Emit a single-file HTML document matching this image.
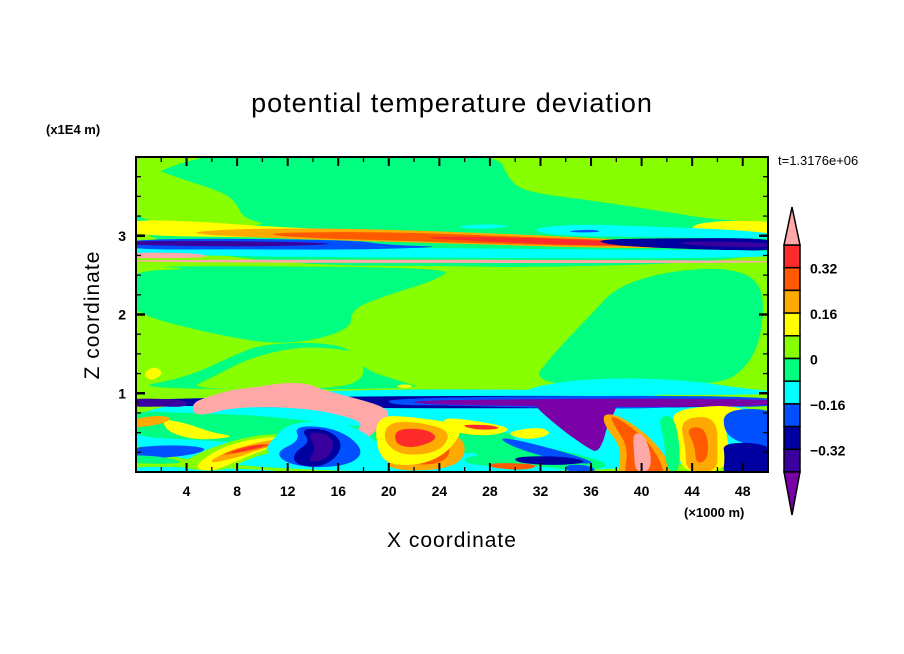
<!DOCTYPE html>
<html><head><meta charset="utf-8"><style>
html,body{margin:0;padding:0;background:#fff;}
svg{display:block;font-family:"Liberation Sans","DejaVu Sans",sans-serif;}
</style></head><body>
<svg id="chart" width="904" height="654" viewBox="0 0 904 654" xmlns="http://www.w3.org/2000/svg">
<defs><clipPath id="pc"><rect x="136" y="157" width="632" height="315"/></clipPath></defs>
<rect width="904" height="654" fill="#fff"/>
<text x="452" y="112" font-size="27" text-anchor="middle" letter-spacing="1">potential temperature deviation</text>
<text x="46" y="134" font-size="13" font-weight="bold">(x1E4 m)</text>
<text x="778" y="165" font-size="13">t=1.3176e+06</text>
<text x="0" y="0" font-size="21" text-anchor="middle" transform="translate(99,315) rotate(-90)" letter-spacing="1">Z coordinate</text>
<text x="452" y="547" font-size="21" text-anchor="middle" letter-spacing="1">X coordinate</text>
<text x="684" y="517" font-size="13" font-weight="bold">(×1000 m)</text>
<g id="field" clip-path="url(#pc)"></g>
<g id="axes"></g>
<g id="cbar"></g>
</svg>
<script>
// colour levels (index 0 = below -0.4 ... 11 = above 0.4)
const levelColors = ["#7a00a8","#3a009e","#0000a0","#0050ff","#00ffff","#00ff80","#88ff00","#ffff00","#ffaa00","#ff5a00","#ff2a2a","#ffa8a8"];
const cbarLabels = ["0.32","0.16","0","\u22120.16","\u22120.32"];
const xTicks = [4,8,12,16,20,24,28,32,36,40,44,48];
const zTicks = [1,2,3];
const xDomain = [0,50];
const zDomain = [0,4];
// regions: level index + outline in data coords [x (km), z (1e4 m)]
const regionLevels = [5,6,6,7,7,8,9,10,4,4,3,2,1,4,3,1,11,11,
  5,5,5,6,4,7,7,
  4,2,1,5,7,3,4,5,8,9,6,7,8,9,10,11,4,3,2,1,7,8,10,8,7,10,3,1,0,0,
  8,9,11,7,8,9,3,2,5,7,5,3,2,9,4,3];
const regionShapes = [
 [[0,4.1],[28.5,4.1],[29.5,3.7],[31,3.55],[36,3.45],[42,3.3],[46,3.2],[51,3.18],[51,2.6],[-1,2.6]],
 [[-1,4.0],[3,3.75],[7,3.55],[8,3.4],[8.5,3.22],[11,3.12],[-1,3.12]],
 [[-1,2.62],[30,2.62],[30,2.55],[-1,2.5]],
 [[-1,3.2],[4,3.19],[10,3.12],[20,3.05],[30,3.0],[30,2.92],[10,2.98],[-1,3.0]],
 [[44,3.18],[51,3.2],[51,2.98],[44,3.0]],
 [[3,3.04],[10,3.1],[20,3.08],[30,3.02],[40,2.94],[48,2.88],[40,2.83],[25,2.9],[10,2.97]],
 [[10,3.04],[20,3.05],[30,2.99],[42,2.92],[45,2.87],[35,2.87],[22,2.93],[12,2.98]],
 [[22,2.98],[28,2.99],[38,2.93],[44,2.89],[36,2.87],[26,2.94]],
 [[25,3.12],[28,3.15],[30,3.12],[27,3.08]],
 [[31,3.09],[35,3.15],[40,3.12],[47,3.08],[51,3.02],[51,2.96],[42,2.98],[33,3.0]],
 [[34,3.06],[36,3.08],[37,3.05],[35,3.04]],
 [[36,2.95],[42,2.97],[51,2.97],[51,2.8],[44,2.83],[38,2.87]],
 [[42,2.93],[50,2.92],[51,2.85],[45,2.86]],
 [[-1,2.86],[15,2.86],[25,2.84],[40,2.82],[51,2.82],[51,2.7],[-1,2.74]],
 [[-1,2.97],[17,2.95],[20,2.88],[25,2.86],[17,2.82],[8,2.83],[-1,2.82]],
 [[-1,2.94],[10,2.93],[17,2.9],[10,2.86],[-1,2.88]],
 [[-1,2.79],[5,2.78],[6,2.72],[-1,2.71]],
 [[-1,2.7],[51,2.69],[51,2.65],[-1,2.66]],
 [[0,2.62],[25,2.6],[24,2.45],[19,2.2],[17,2.05],[17,1.8],[12,1.6],[6,1.75],[-1,2.05],[-1,2.55],[5,2.58]],
 [[31,1.08],[33,1.5],[36,2.0],[38,2.35],[42,2.55],[47,2.6],[49.6,2.4],[49.6,1.8],[48.5,1.35],[46,1.08]],
 [[-1,1.05],[4,1.2],[8,1.5],[10,1.62],[14,1.65],[17,1.58],[18,1.3],[21,1.15],[23,1.05]],
 [[15,1.05],[18,1.15],[18,1.45],[17,1.55],[13,1.6],[9,1.45],[6,1.2],[4,1.05]],
 [[30,1.0],[33,1.14],[38,1.2],[44,1.16],[48,1.06],[51,1.02],[51,0.98],[30,0.98]],
 [[0.5,1.25],[1.5,1.35],[2.2,1.25],[1.2,1.15]],
 [[20.5,1.1],[21.5,1.12],[22,1.08],[21,1.06]],
 // lower turbulent region
 [[-1,1.05],[51,1.05],[51,0],[-1,0]],
 [[-1,0.95],[51,0.98],[51,0.8],[-1,0.82]],
 [[-1,0.94],[4,0.92],[4,0.84],[-1,0.82]],
 [[-1,0.78],[4,0.75],[10,0.72],[16,0.6],[20,0.55],[26,0.6],[30,0.5],[30,0.3],[24,0.2],[14,0.3],[6,0.4],[-1,0.45]],
 [[2,0.68],[4,0.62],[6,0.5],[8,0.45],[5,0.4],[2.5,0.5]],
 [[-1,0.3],[3,0.35],[6,0.3],[4,0.2],[-1,0.15]],
 [[-1,0.08],[6,0.05],[12,0.02],[12,-0.1],[-1,-0.1]],
 [[-1,0.22],[2,0.2],[4,0.12],[2,0.1],[-1,0.12]],
 [[19.5,0.5],[23,0.55],[26,0.45],[26,0.15],[24,0.02],[20,0.02],[19,0.25]],
 [[20.5,0.4],[23,0.45],[25,0.35],[24.5,0.12],[22,0.08],[20.5,0.2]],
 [[3,0.05],[5,0.25],[8,0.42],[11,0.5],[14,0.42],[12,0.3],[9,0.18],[7,0.0]],
 [[4.5,0.05],[6,0.25],[8,0.38],[11,0.46],[13,0.4],[10,0.28],[8,0.14],[6,0.0]],
 [[5.5,0.1],[7,0.25],[9,0.35],[11,0.42],[12,0.38],[10,0.3],[8,0.18]],
 [[6.5,0.2],[8,0.3],[10,0.36],[11,0.35],[9,0.27]],
 [[7,0.22],[9,0.33],[10.5,0.36],[9.5,0.3]],
 [[4.5,0.88],[5.6,0.95],[7.4,1.04],[9.6,1.08],[11.4,1.13],[13.5,1.13],[14.8,1.04],[18,0.91],[19.5,0.83],[20.1,0.75],[19.5,0.62],[18.5,0.44],[17.5,0.41],[17.2,0.47],[18,0.62],[16.7,0.7],[14.3,0.79],[10.6,0.83],[7.4,0.81],[5.3,0.72],[4.5,0.75]],
 [[12,0.6],[14,0.65],[17,0.6],[19,0.4],[20,0.2],[20,0.0],[17,0.0],[15,0.15],[12,0.2],[10,0.25],[11,0.45]],
 [[12.5,0.58],[15,0.58],[17,0.45],[18,0.25],[17,0.1],[14.5,0.05],[12,0.1],[11,0.25],[13,0.4]],
 [[13,0.55],[15,0.55],[16.3,0.4],[16,0.2],[14.5,0.05],[12.5,0.1],[12.5,0.25],[13.8,0.38]],
 [[13.5,0.5],[15,0.5],[15.8,0.35],[15,0.15],[13.5,0.12],[14.3,0.3]],
 [[19,0.72],[22,0.7],[26,0.6],[25,0.3],[23,0.1],[20,0.08],[19,0.3]],
 [[20,0.65],[23,0.62],[25,0.5],[24,0.25],[21,0.2],[19.5,0.4]],
 [[20.5,0.55],[23,0.55],[24,0.42],[22,0.3],[20.5,0.35]],
 [[-1,0.62],[1,0.72],[3,0.7],[2,0.6],[-1,0.55]],
 [[24,0.7],[27,0.65],[30,0.55],[28,0.45],[25,0.5]],
 [[25.5,0.6],[28,0.6],[29,0.55],[27,0.53]],
 [[20,0.95],[51,0.98],[51,0.82],[44,0.84],[40,0.8],[30,0.82],[24,0.85],[20,0.85]],
 [[1,0.92],[4,0.9],[4,0.82],[1,0.84]],
 [[22,0.92],[51,0.94],[51,0.84],[40,0.82],[30,0.84],[22,0.86]],
 [[31.7,0.92],[38,0.92],[38,0.8],[37.3,0.6],[37,0.4],[36.5,0.25],[35.8,0.3],[34,0.5],[32.5,0.7],[31.5,0.85]],
 // right side plume and features
 [[37,0.75],[38.5,0.7],[41,0.4],[42.5,0.05],[42,-0.1],[38,-0.1],[38.5,0.3],[37,0.6]],
 [[37.5,0.72],[38.5,0.65],[40.5,0.4],[41.8,0.05],[41.5,-0.1],[38.5,-0.1],[39,0.3],[37.8,0.6]],
 [[39.3,0.5],[40.2,0.48],[40.8,0.2],[40.6,0.0],[39.5,0.0],[39.4,0.25]],
 [[42.5,0.75],[44,0.82],[47,0.85],[49,0.75],[46.5,0.6],[47,0.3],[46.5,0.0],[43,0.0],[43,0.4],[42.5,0.6]],
 [[43,0.65],[45,0.72],[46,0.6],[46,0.3],[46,0.0],[43.5,0.0],[43.5,0.3]],
 [[43.5,0.55],[44.8,0.58],[45.3,0.4],[45.2,0.15],[44.3,0.1],[44.2,0.35]],
 [[46.5,0.8],[51,0.8],[51,0.3],[48,0.35],[46.5,0.5]],
 [[46.4,0.37],[49.6,0.37],[51,0.2],[51,-0.1],[46.4,-0.1],[46.6,0.2]],
 [[26,0.45],[30,0.35],[33,0.3],[36,0.18],[37.5,0.1],[36,0.0],[30,0.1],[26,0.25]],
 [[29,0.5],[32,0.58],[33,0.48],[31,0.4]],
 [[26,0.2],[30,0.25],[33,0.22],[34,0.1],[30,0.05],[26,0.1]],
 [[28.5,0.45],[31,0.38],[35,0.2],[36.5,0.1],[34,0.12],[30,0.3]],
 [[30,0.2],[34,0.2],[36,0.12],[33,0.08],[30,0.12]],
 [[28,0.12],[32,0.1],[31,0.02],[28,0.05]],
 [[40,0.78],[41.5,0.75],[42,0.65],[40.8,0.68]],
 [[34,0.1],[36,0.08],[36.5,0.0],[34,0.0]],
 [[41.3,0.7],[42.5,0.72],[43,0.4],[43,0.0],[42,0.0],[41.8,0.4]]
];
const PL=136, PR=768, PT=157, PB=472;
function sx(v){return PL+(v-xDomain[0])/(xDomain[1]-xDomain[0])*(PR-PL);}
function sz(v){return PB-(v-zDomain[0])/(zDomain[1]-zDomain[0])*(PB-PT);}
const NS="http://www.w3.org/2000/svg";
function smoothPath(pts){
  const p=pts.map(q=>[sx(q[0]),sz(q[1])]);const n=p.length;
  let d="";
  for(let i=0;i<n;i++){const a=p[i],b=p[(i+1)%n];const m=[(a[0]+b[0])/2,(a[1]+b[1])/2];
    if(i===0){const l=p[n-1];d+="M"+((l[0]+a[0])/2)+","+((l[1]+a[1])/2);}
    d+=" Q"+a[0]+","+a[1]+" "+m[0]+","+m[1];}
  return d+"Z";
}
const field=document.getElementById("field");
const base=document.createElementNS(NS,"rect");
base.setAttribute("x",PL);base.setAttribute("y",PT);base.setAttribute("width",PR-PL);base.setAttribute("height",PB-PT);
base.setAttribute("fill",levelColors[6]);


field.appendChild(base);
regionShapes.forEach((s,i)=>{
  const el=document.createElementNS(NS,"path");
  el.setAttribute("d",smoothPath(s));
  const lv=regionLevels[i]!==undefined?regionLevels[i]:5;
  el.setAttribute("fill",levelColors[lv]);
  
  
  field.appendChild(el);
});
// axes
const axes=document.getElementById("axes");
function line(x1,y1,x2,y2,w){const l=document.createElementNS(NS,"line");l.setAttribute("x1",x1);l.setAttribute("y1",y1);l.setAttribute("x2",x2);l.setAttribute("y2",y2);l.setAttribute("stroke","#000");l.setAttribute("stroke-width",w);axes.appendChild(l);return l;}
const frame=document.createElementNS(NS,"rect");
frame.setAttribute("x",PL);frame.setAttribute("y",PT);frame.setAttribute("width",PR-PL);frame.setAttribute("height",PB-PT);
frame.setAttribute("fill","none");frame.setAttribute("stroke","#000");frame.setAttribute("stroke-width","2");


axes.appendChild(frame);
for(let v=2;v<50;v+=2){const major=v%4===0;const L=major?9:5;const x=sx(v);
  const a=line(x,PB,x,PB-L,major?2:1.3);
  const b=line(x,PT,x,PT+L,major?2:1.3);}
for(let v=0.25;v<4;v+=0.25){const major=Math.abs(v-Math.round(v))<1e-6;const L=major?9:5;const y=sz(v);
  const a=line(PL,y,PL+L,y,major?2.5:1.3);
  const b=line(PR,y,PR-L,y,major?2.5:1.3);}
xTicks.forEach(v=>{const t=document.createElementNS(NS,"text");t.setAttribute("x",sx(v));t.setAttribute("y",496);t.setAttribute("font-size","14");t.setAttribute("font-weight","bold");t.setAttribute("text-anchor","middle");t.textContent=v;
  
  
  axes.appendChild(t);});
zTicks.forEach(v=>{const t=document.createElementNS(NS,"text");t.setAttribute("x",126);t.setAttribute("y",sz(v)+5);t.setAttribute("font-size","14");t.setAttribute("font-weight","bold");t.setAttribute("text-anchor","end");t.textContent=v;
  
  
  axes.appendChild(t);});
// colorbar
const cb=document.getElementById("cbar");
const CX=784,CW=16,CT=245,CB=472,nBox=10,bh=(CB-CT)/nBox;
for(let i=0;i<nBox;i++){const r=document.createElementNS(NS,"rect");
  r.setAttribute("x",CX);r.setAttribute("y",CT+i*bh);r.setAttribute("width",CW);r.setAttribute("height",bh);
  r.setAttribute("fill",levelColors[10-i]);r.setAttribute("stroke","#000");r.setAttribute("stroke-width","1.5");
  
  
  cb.appendChild(r);}
const up=document.createElementNS(NS,"polygon");
up.setAttribute("points",`${CX},${CT} ${CX+CW/2},207 ${CX+CW},${CT}`);up.setAttribute("fill",levelColors[11]);up.setAttribute("stroke","#000");up.setAttribute("stroke-width","1.5");


cb.appendChild(up);
const dn=document.createElementNS(NS,"polygon");
dn.setAttribute("points",`${CX},${CB} ${CX+CW/2},515 ${CX+CW},${CB}`);dn.setAttribute("fill",levelColors[0]);dn.setAttribute("stroke","#000");dn.setAttribute("stroke-width","1.5");


cb.appendChild(dn);
cbarLabels.forEach((s,i)=>{const t=document.createElementNS(NS,"text");t.setAttribute("x",810);t.setAttribute("y",CT+(1+2*i)*bh+6);t.setAttribute("font-size","14");t.setAttribute("font-weight","bold");t.textContent=s;
  
  
  cb.appendChild(t);});
</script>
</body></html>
